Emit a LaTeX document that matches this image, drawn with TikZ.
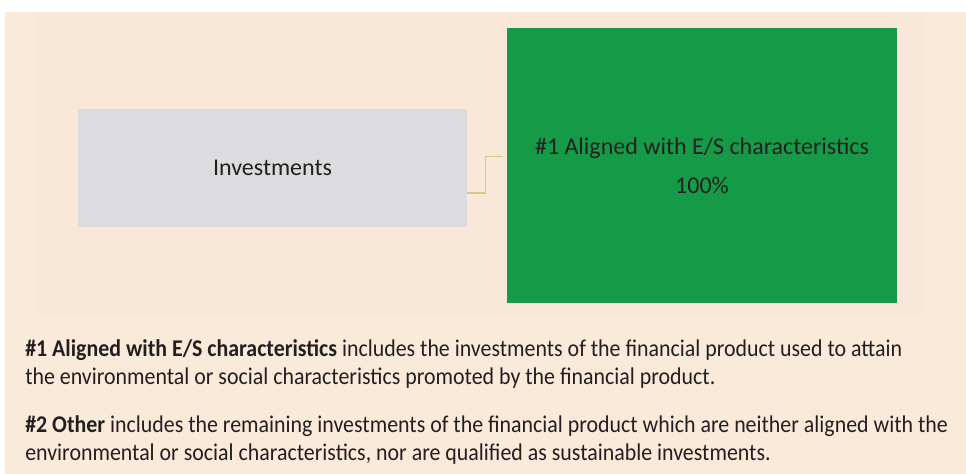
\documentclass[tikz,border=0pt]{standalone}
\usepackage{fontspec}
\setmainfont{Carlito}
\newfontfamily\bodyfont[FakeStretch=0.912]{Carlito}
\usetikzlibrary{positioning}
\definecolor{pagebg}{RGB}{250,234,218}
\definecolor{panelbg}{RGB}{249,232,215}
\definecolor{boxgrey}{RGB}{220,220,222}
\definecolor{esgreen}{RGB}{21,155,72}
\definecolor{linkolive}{RGB}{212,201,140}
\definecolor{ink}{RGB}{35,31,32}

\begin{document}
\begin{tikzpicture}[x=0.75pt,y=-0.75pt,
    box/.style={inner sep=0pt, font=\fontsize{18}{29.25}\selectfont, text=ink, align=center},
    link/.style={draw=linkolive, line width=1pt},
    para/.style={anchor=north west, inner sep=0pt, align=left, text=ink,
      font=\bodyfont\fontsize{18}{21}\selectfont}]
  \useasboundingbox (0,0) rectangle (966,474);
  \fill[pagebg] (5,12) rectangle (966,474);
  \fill[panelbg] (35,12) rectangle (922,316);

  \node[box, fill=boxgrey, minimum width=291.75pt, minimum height=88.5pt] (invest) at (272.5,168) {Investments};
  \node[box, fill=esgreen, minimum width=292.5pt, minimum height=206.25pt] (aligned) at (702,165.5)
    {\#1 Aligned with E/S characteristics\\100\%};

  \draw[link] ([yshift=-18.75pt]invest.east) -- ++(18,0) |- ([xshift=-3pt,yshift=6.75pt]aligned.west);

  \node[para] (def1) at (25,339)
    {\textbf{\#1 Aligned with E/S characteristics} includes the investments of the financial product used to attain\\
     the environmental or social characteristics promoted by the financial product.};
  \node[para] (def2) at (25,415)
    {\textbf{\#2 Other} includes the remaining investments of the financial product which are neither aligned with the\\
     environmental or social characteristics, nor are qualified as sustainable investments.};
\end{tikzpicture}
\end{document}
